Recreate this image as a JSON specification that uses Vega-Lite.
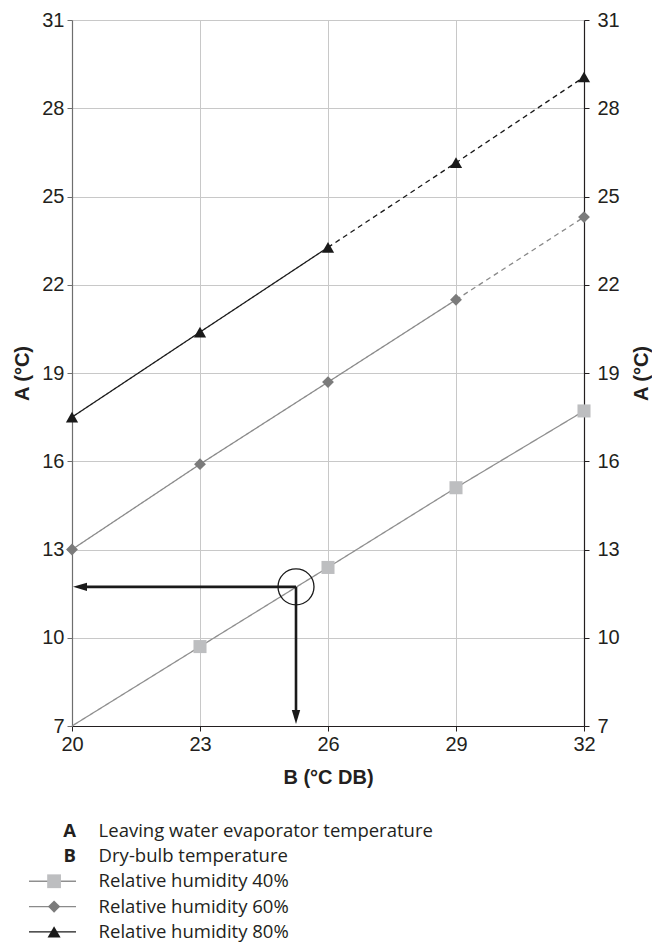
{
  "$schema": "https://vega.github.io/schema/vega-lite/v6.json",
  "padding": {"left": 12, "top": 10, "right": 0, "bottom": 0},
  "background": "white",
  "spacing": 31,
  "config": {
    "view": {"stroke": null},
    "font": "Liberation Sans"
  },
  "datasets": {
    "lines": [
      {"rh": "40%", "part": "solid", "x": 20, "y": 7},
      {"rh": "40%", "part": "solid", "x": 23, "y": 9.7},
      {"rh": "40%", "part": "solid", "x": 26, "y": 12.39},
      {"rh": "40%", "part": "solid", "x": 29, "y": 15.1},
      {"rh": "40%", "part": "solid", "x": 32, "y": 17.71},
      {"rh": "60%", "part": "solid", "x": 20, "y": 13},
      {"rh": "60%", "part": "solid", "x": 23, "y": 15.9},
      {"rh": "60%", "part": "solid", "x": 26, "y": 18.69},
      {"rh": "60%", "part": "solid", "x": 29, "y": 21.49},
      {"rh": "60%", "part": "dashed", "x": 29, "y": 21.49},
      {"rh": "60%", "part": "dashed", "x": 32, "y": 24.3},
      {"rh": "80%", "part": "solid", "x": 20, "y": 17.5},
      {"rh": "80%", "part": "solid", "x": 23, "y": 20.39},
      {"rh": "80%", "part": "solid", "x": 26, "y": 23.27},
      {"rh": "80%", "part": "dashed", "x": 26, "y": 23.27},
      {"rh": "80%", "part": "dashed", "x": 29, "y": 26.15},
      {"rh": "80%", "part": "dashed", "x": 32, "y": 29.06}
    ],
    "markers": [
      {"rh": "40%", "x": 23, "y": 9.7},
      {"rh": "40%", "x": 26, "y": 12.39},
      {"rh": "40%", "x": 29, "y": 15.1},
      {"rh": "40%", "x": 32, "y": 17.71},
      {"rh": "60%", "x": 20, "y": 13},
      {"rh": "60%", "x": 23, "y": 15.9},
      {"rh": "60%", "x": 26, "y": 18.69},
      {"rh": "60%", "x": 29, "y": 21.49},
      {"rh": "60%", "x": 32, "y": 24.3},
      {"rh": "80%", "x": 20, "y": 17.5},
      {"rh": "80%", "x": 23, "y": 20.39},
      {"rh": "80%", "x": 26, "y": 23.27},
      {"rh": "80%", "x": 29, "y": 26.15},
      {"rh": "80%", "x": 32, "y": 29.06}
    ],
    "annot": [
      {"px": 25.25, "py": 11.73}
    ],
    "legend": [
      {"row": 1, "key": "A", "label": "Leaving water evaporator temperature"},
      {"row": 2, "key": "B", "label": "Dry-bulb temperature"},
      {"row": 3, "rh": "40%", "label": "Relative humidity 40%"},
      {"row": 4, "rh": "60%", "label": "Relative humidity 60%"},
      {"row": 5, "rh": "80%", "label": "Relative humidity 80%"}
    ]
  },
  "vconcat": [
    {
      "width": 512,
      "height": 706,
      "layer": [
        {
          "data": {"name": "lines"},
          "mark": {"type": "line", "strokeWidth": 1.3},
          "encoding": {
            "x": {
              "field": "x", "type": "quantitative",
              "scale": {"domain": [20, 32], "nice": false, "zero": false},
              "axis": {"values": [20, 23, 26, 29, 32], "title": "B (°C DB)", "grid": true, "gridColor": "#c8c8c8", "labelPadding": 3, "titlePadding": 13, "labelFlush": false,
                "labelFont": "Liberation Sans", "labelFontSize": 20, "labelColor": "#231f20", "titleFont": "Liberation Sans", "titleFontSize": 20, "titleFontWeight": "bold", "titleColor": "#231f20",
                "tickSize": 5, "tickColor": "#231f20", "domainColor": "#231f20", "domainWidth": 1.2}
            },
            "y": {
              "field": "y", "type": "quantitative",
              "scale": {"domain": [7, 31], "nice": false, "zero": false},
              "axis": {"orient": "left", "values": [7, 10, 13, 16, 19, 22, 25, 28, 31], "title": "A (°C)", "grid": true, "gridColor": "#c8c8c8", "labelPadding": 3, "titlePadding": 9, "labelFlush": false,
                "labelFont": "Liberation Sans", "labelFontSize": 20, "labelColor": "#231f20", "titleFont": "Liberation Sans", "titleFontSize": 20, "titleFontWeight": "bold", "titleColor": "#231f20",
                "tickSize": 5, "tickColor": "#6e6e6e", "domainColor": "#6e6e6e", "domainWidth": 1.2}
            },
            "stroke": {"field": "rh", "type": "nominal", "scale": {"domain": ["40%", "60%", "80%"], "range": ["#8f8f8f", "#8a8a8a", "#1a1a1a"]}, "legend": null},
            "strokeDash": {"field": "part", "type": "nominal", "scale": {"domain": ["solid", "dashed"], "range": [[1, 0], [5, 4]]}, "legend": null}
          }
        },
        {
          "data": {"name": "markers"},
          "transform": [{"filter": "datum.rh == '40%'"}],
          "mark": {"type": "point", "shape": "square", "filled": true, "opacity": 1, "size": 170, "color": "#bdbec0"},
          "encoding": {
            "x": {"field": "x", "type": "quantitative"},
            "y": {
              "field": "y", "type": "quantitative",
              "axis": {"orient": "right", "values": [7, 10, 13, 16, 19, 22, 25, 28, 31], "title": "A (°C)", "grid": false, "labelPadding": 8, "titlePadding": 12, "titleAngle": 270, "titleBaseline": "top", "labelFlush": false,
                "labelFont": "Liberation Sans", "labelFontSize": 20, "labelColor": "#231f20", "titleFont": "Liberation Sans", "titleFontSize": 20, "titleFontWeight": "bold", "titleColor": "#231f20",
                "tickSize": 5, "tickColor": "#231f20", "domainColor": "#231f20", "domainWidth": 1.2}
            }
          }
        },
        {
          "data": {"name": "markers"},
          "transform": [{"filter": "datum.rh == '60%'"}],
          "mark": {"type": "point", "shape": "diamond", "filled": true, "opacity": 1, "size": 140, "color": "#7b7b7b"},
          "encoding": {
            "x": {"field": "x", "type": "quantitative"},
            "y": {"field": "y", "type": "quantitative", "axis": null}
          }
        },
        {
          "data": {"name": "markers"},
          "transform": [{"filter": "datum.rh == '80%'"}],
          "mark": {"type": "point", "shape": "triangle-up", "filled": true, "opacity": 1, "size": 150, "color": "#1a1a1a"},
          "encoding": {
            "x": {"field": "x", "type": "quantitative"},
            "y": {"field": "y", "type": "quantitative", "axis": null}
          }
        },
        {
          "data": {"name": "annot"},
          "mark": {"type": "rule", "strokeWidth": 2.6, "color": "#1a1a1a"},
          "encoding": {
            "x": {"field": "px", "type": "quantitative"},
            "x2": {"datum": 20.3},
            "y": {"field": "py", "type": "quantitative", "axis": null}
          }
        },
        {
          "data": {"name": "annot"},
          "mark": {"type": "rule", "strokeWidth": 2.6, "color": "#1a1a1a"},
          "encoding": {
            "x": {"field": "px", "type": "quantitative"},
            "y": {"field": "py", "type": "quantitative", "axis": null},
            "y2": {"datum": 7.3}
          }
        },
        {
          "data": {"name": "annot"},
          "mark": {"type": "point", "shape": "M -1 0 L 1 -0.6 L 1 0.6 Z", "filled": true, "opacity": 1, "size": 196, "color": "#1a1a1a", "xOffset": 8},
          "encoding": {
            "x": {"datum": 20, "type": "quantitative"},
            "y": {"field": "py", "type": "quantitative", "axis": null}
          }
        },
        {
          "data": {"name": "annot"},
          "mark": {"type": "point", "shape": "M 0 1 L -0.6 -1 L 0.6 -1 Z", "filled": true, "opacity": 1, "size": 196, "color": "#1a1a1a", "yOffset": -9},
          "encoding": {
            "x": {"field": "px", "type": "quantitative"},
            "y": {"datum": 7, "type": "quantitative", "axis": null}
          }
        },
        {
          "data": {"name": "annot"},
          "mark": {"type": "point", "shape": "circle", "filled": false, "size": 1296, "stroke": "#1a1a1a", "strokeWidth": 1.3, "opacity": 1},
          "encoding": {
            "x": {"field": "px", "type": "quantitative"},
            "y": {"field": "py", "type": "quantitative", "axis": null}
          }
        }
      ],
      "resolve": {"axis": {"y": "independent"}}
    },
    {
      "width": 512,
      "height": 126.5,
      "data": {"name": "legend"},
      "layer": [
        {
          "mark": {"type": "text", "align": "left", "baseline": "middle", "font": "Open Sans", "fontSize": 18.5, "color": "#231f20"},
          "encoding": {
            "x": {"datum": 5.2, "type": "quantitative", "scale": {"domain": [0, 100], "nice": false, "zero": false}, "axis": null},
            "y": {"field": "row", "type": "ordinal", "scale": {"type": "point", "padding": 0.5}, "axis": null},
            "text": {"field": "label"}
          }
        },
        {
          "transform": [{"filter": "datum.key"}],
          "mark": {"type": "text", "align": "right", "baseline": "middle", "font": "Open Sans", "fontSize": 18.5, "fontWeight": "bold", "color": "#231f20"},
          "encoding": {
            "x": {"datum": 0.78, "type": "quantitative"},
            "y": {"field": "row", "type": "ordinal"},
            "text": {"field": "key"}
          }
        },
        {
          "transform": [{"filter": "datum.rh"}],
          "mark": {"type": "rule", "strokeWidth": 1.3},
          "encoding": {
            "x": {"datum": -8.4, "type": "quantitative"},
            "x2": {"datum": 0.78},
            "y": {"field": "row", "type": "ordinal"},
            "stroke": {"field": "rh", "type": "nominal", "legend": null}
          }
        },
        {
          "transform": [{"filter": "datum.rh == '40%'"}],
          "mark": {"type": "point", "shape": "square", "filled": true, "opacity": 1, "size": 190, "color": "#bdbec0"},
          "encoding": {
            "x": {"datum": -3.5, "type": "quantitative"},
            "y": {"field": "row", "type": "ordinal"}
          }
        },
        {
          "transform": [{"filter": "datum.rh == '60%'"}],
          "mark": {"type": "point", "shape": "diamond", "filled": true, "opacity": 1, "size": 150, "color": "#7b7b7b"},
          "encoding": {
            "x": {"datum": -3.5, "type": "quantitative"},
            "y": {"field": "row", "type": "ordinal"}
          }
        },
        {
          "transform": [{"filter": "datum.rh == '80%'"}],
          "mark": {"type": "point", "shape": "triangle-up", "filled": true, "opacity": 1, "size": 170, "color": "#1a1a1a"},
          "encoding": {
            "x": {"datum": -3.5, "type": "quantitative"},
            "y": {"field": "row", "type": "ordinal"}
          }
        }
      ]
    }
  ]
}
